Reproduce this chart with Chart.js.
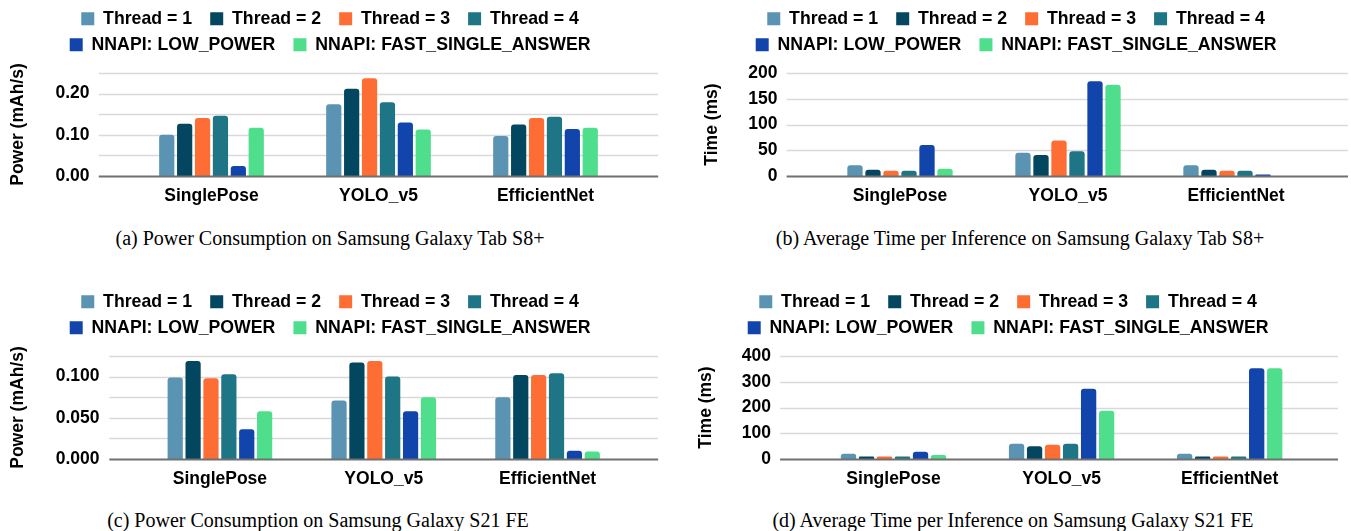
<!DOCTYPE html>
<html>
<head>
<meta charset="utf-8">
<script src="https://cdn.jsdelivr.net/npm/chart.js@4.4.1/dist/chart.umd.min.js"></script>
<style>
  html, body { margin: 0; padding: 0; background: #fff; }
  body { width: 1351px; height: 531px; position: relative; overflow: hidden; }
  canvas { position: absolute; }
  .caption {
    position: absolute; width: 640px; text-align: center; white-space: nowrap;
    font-family: 'Liberation Serif', 'Times New Roman', serif; font-size: 20px; line-height: 20px; color: #000;
  }
</style>
</head>
<body>
<canvas id="tabPowerChart" width="670" height="225" style="left:0px;top:0px"></canvas>
<canvas id="tabTimeChart" width="654" height="225" style="left:694px;top:0px"></canvas>
<canvas id="s21PowerChart" width="670" height="225" style="left:0px;top:283px"></canvas>
<canvas id="s21TimeChart" width="650" height="225" style="left:688px;top:283px"></canvas>

<div class="caption" style="left:10px;top:228px">(a) Power Consumption on Samsung Galaxy Tab S8+</div>
<div class="caption" style="left:700px;top:228px">(b) Average Time per Inference on Samsung Galaxy Tab S8+</div>
<div class="caption" style="left:-2px;top:510px">(c) Power Consumption on Samsung Galaxy S21 FE</div>
<div class="caption" style="left:693px;top:510px">(d) Average Time per Inference on Samsung Galaxy S21 FE</div>

<script>
const categories = ['SinglePose', 'YOLO_v5', 'EfficientNet'];
const seriesLabels = ['Thread = 1', 'Thread = 2', 'Thread = 3', 'Thread = 4', 'NNAPI: LOW_POWER', 'NNAPI: FAST_SINGLE_ANSWER'];
const seriesColors = ['#5a94b2', '#03465f', '#fe6d34', '#1d7585', '#1145ab', '#4ede8c'];

// one row per series (same order as seriesLabels), one column per category
const tabPower = [
    [0.100, 0.174, 0.097],
    [0.127, 0.212, 0.125],
    [0.141, 0.237, 0.141],
    [0.146, 0.179, 0.144],
    [0.024, 0.130, 0.114],
    [0.117, 0.113, 0.117]
];
const tabTime = [
    [21, 45, 21],
    [12, 41, 12],
    [10, 69, 10],
    [10, 48, 10],
    [60, 184, 3],
    [14, 177, 0]
];
const s21Power = [
    [0.099, 0.071, 0.075],
    [0.119, 0.117, 0.102],
    [0.098, 0.119, 0.102],
    [0.103, 0.100, 0.104],
    [0.036, 0.058, 0.010],
    [0.058, 0.075, 0.009]
];
const s21Time = [
    [20, 59, 20],
    [10, 50, 10],
    [10, 55, 10],
    [10, 59, 10],
    [28, 273, 352],
    [16, 187, 352]
];

Chart.defaults.font.family = "'Liberation Sans', Arial, sans-serif";
Chart.defaults.color = '#000';

// Sheets-style gridlines run a bit past the outer groups
function drawLines(chart, base) {
    const { ctx, chartArea: a, scales: { y } } = chart;
    const ext = (a.right - a.left) / categories.length * 0.175;
    ctx.save();
    y.ticks.forEach(t => {
        if ((t.value === 0) !== base) return;
        const py = Math.round(y.getPixelForValue(t.value)) + 0.5;
        ctx.beginPath();
        ctx.strokeStyle = base ? '#707070' : '#d9d9d9';
        ctx.lineWidth = base ? 2 : 1.5;
        ctx.moveTo(a.left - ext, py);
        ctx.lineTo(a.right + ext, py);
        ctx.stroke();
    });
    ctx.restore();
}

const sheetGrid = {
    id: 'sheetGrid',
    beforeDatasetsDraw(chart) { drawLines(chart, false); },
    afterDatasetsDraw(chart) { drawLines(chart, true); }
};

// extra space between the two legend rows and the plot
const legendGap = {
    id: 'legendGap',
    beforeLayout(chart, args, opts) {
        const lg = chart.legend;
        if (lg && !lg.$gapPatched) {
            const fit = lg.fit.bind(lg);
            lg.fit = () => { fit(); lg.height += opts.extra; };
            lg.$gapPatched = true;
        }
    }
};

function makeChart(id, rows, cfg) {
    const ctx = document.getElementById(id).getContext('2d');
    return new Chart(ctx, {
        type: 'bar',
        data: {
            labels: categories,
            datasets: rows.map((vals, i) => ({
                label: seriesLabels[i],
                data: vals,
                backgroundColor: seriesColors[i],
                borderRadius: 3,
                borderSkipped: 'start',
                barPercentage: 0.85,
                categoryPercentage: cfg.catPct
            }))
        },
        options: {
            responsive: false,
            animation: false,
            layout: { padding: { top: 1.5, left: 0, right: 0, bottom: 0 } },
            plugins: {
                legend: {
                    position: 'top',
                    labels: {
                        boxWidth: 13,
                        boxHeight: 13,
                        padding: 8.3,
                        color: '#000',
                        font: { size: 17.7, weight: 'bold' },
                        // a little air after each entry, like the Sheets legend
                        generateLabels: chart => Chart.defaults.plugins.legend.labels.generateLabels(chart)
                            .map(item => ({ ...item, text: item.text + '\u00a0\u00a0' }))
                    }
                },
                tooltip: { enabled: false },
                legendGap: { extra: 9.5 }
            },
            scales: {
                x: {
                    grid: { display: false, drawTicks: false },
                    border: { display: false },
                    ticks: { padding: 9.5, color: '#000', font: { size: 17.5, weight: 'bold' } },
                    afterFit: s => { s.height = 35; }
                },
                y: {
                    min: 0,
                    max: cfg.max,
                    grid: { display: false, drawTicks: false },
                    border: { display: false },
                    ticks: {
                        stepSize: cfg.step,
                        padding: 38.5,
                        color: '#000',
                        font: { size: 17.5, weight: 'bold' },
                        callback: v => {
                            const k = v / cfg.labelEvery;
                            return Math.abs(k - Math.round(k)) < 1e-6 ? v.toFixed(cfg.decimals) : '';
                        }
                    },
                    title: {
                        display: true,
                        text: cfg.title,
                        color: '#000',
                        font: { size: 17.5, weight: 'bold' },
                        padding: { top: 8, bottom: 0 }
                    },
                    afterFit: s => { s.width = cfg.yWidth; }
                },
                // empty right-hand axis, only keeps the legend centred over the panel
                yRight: {
                    type: 'linear',
                    position: 'right',
                    grid: { display: false, drawTicks: false },
                    border: { display: false },
                    ticks: { display: false },
                    afterFit: s => { s.width = cfg.rightPad; }
                }
            }
        },
        plugins: [sheetGrid, legendGap]
    });
}

makeChart('tabPowerChart', tabPower, {
    title: 'Power (mAh/s)', max: 0.25, step: 0.05, labelEvery: 0.1, decimals: 2,
    yWidth: 128, rightPad: 41, catPct: 0.643
});
makeChart('tabTimeChart', tabTime, {
    title: 'Time (ms)', max: 200, step: 50, labelEvery: 50, decimals: 0,
    yWidth: 122, rightPad: 28, catPct: 0.643
});
makeChart('s21PowerChart', s21Power, {
    title: 'Power (mAh/s)', max: 0.125, step: 0.025, labelEvery: 0.05, decimals: 3,
    yWidth: 138, rightPad: 40.5, catPct: 0.655
});
makeChart('s21TimeChart', s21Time, {
    title: 'Time (ms)', max: 400, step: 100, labelEvery: 100, decimals: 0,
    yWidth: 121.5, rightPad: 24.3, catPct: 0.643
});
</script>
</body>
</html>
